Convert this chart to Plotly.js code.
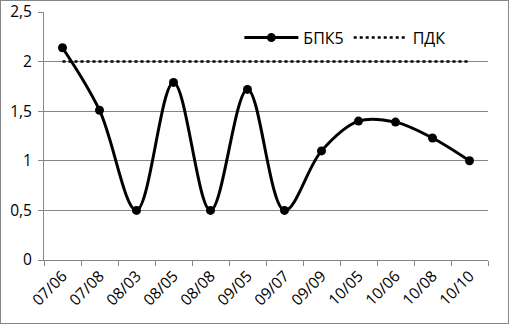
<!DOCTYPE html>
<html><head><meta charset="utf-8">
<script src="https://cdn.plot.ly/plotly-3.0.1.min.js"></script>
<style>html,body{margin:0;padding:0;background:#fff}#c{width:507px;height:322px;border:1px solid #868686}</style>
</head><body><div id="c"></div>
<script>
const categories = ["07/06","07/08","08/03","08/05","08/08","09/05","09/07","09/09","10/05","10/06","10/08","10/10"];
const bpk5 = [2.14,1.51,0.5,1.79,0.5,1.72,0.5,1.1,1.4,1.39,1.23,1.0];
const pdk = [2,2,2,2,2,2,2,2,2,2,2,2];
const yTicks = [0,0.5,1,1.5,2,2.5];
const yTickText = ["0","0,5","1","1,5","2","2,5"];

const traces = [
 {x:categories,y:bpk5,name:"БПК5",type:"scatter",mode:"lines+markers",
  line:{color:"#000",width:3,shape:"spline",smoothing:1},marker:{color:"#000",size:9}},
 {x:categories,y:pdk,name:"ПДК",type:"scatter",mode:"lines",
  line:{color:"#000",width:2.5,dash:"dot"}}
];
const layout = {
 width:507,height:322,
 margin:{l:43,r:20,t:11,b:63},
 paper_bgcolor:"#fff",plot_bgcolor:"#fff",
 font:{family:"Open Sans, Liberation Sans, sans-serif",size:14,color:"#000"},
 showlegend:true,
 legend:{orientation:"h",x:0.44,y:0.965,xanchor:"left",yanchor:"top",font:{size:16},bgcolor:"rgba(0,0,0,0)",itemwidth:54,tracegroupgap:0},
 xaxis:{type:"category",tickangle:-45,showgrid:false,showline:true,linecolor:"#868686",linewidth:1,
   ticks:"outside",tickson:"boundaries",ticklen:5,tickcolor:"#868686",tickfont:{size:15.5},range:[-0.5,11.5],zeroline:false},
 yaxis:{range:[0,2.5],tickvals:yTicks,ticktext:yTickText,showgrid:true,gridcolor:"#868686",gridwidth:1,ticklabeloverflow:"allow",
   showline:true,linecolor:"#868686",ticks:"outside",ticklen:5,tickcolor:"#868686",zeroline:false,tickfont:{size:15.5},ticklabelstandoff:3}
};
Plotly.newPlot("c",traces,layout,{staticPlot:true,displayModeBar:false});
</script></body></html>
